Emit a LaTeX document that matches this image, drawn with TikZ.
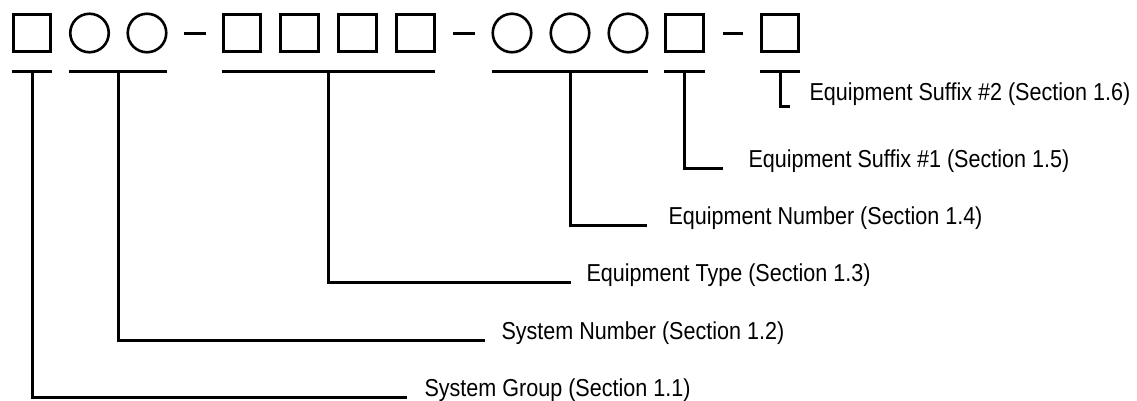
\documentclass[tikz,border=0pt]{standalone}
\usepackage{fontspec}
\setmainfont{Liberation Sans}[FakeStretch=0.88]
\begin{document}
\begin{tikzpicture}[x=1bp,y=-1bp,
  line width=3bp, line join=miter,
  sq/.style={draw, rectangle, minimum size=37.5bp, inner sep=0pt, line width=3bp},
  ci/.style={draw, circle, minimum size=38.5bp, inner sep=0pt, line width=2.6bp},
  lab/.style={anchor=base west, inner sep=0pt, font=\fontsize{24.5bp}{28bp}\selectfont},
  conn/.style={draw, line width=3bp}]
\useasboundingbox (0,0) rectangle (1137,400);
% top row of shapes
\node[sq] (s1) at (32,33) {};
\node[ci] (c1) at (89.5,33) {};
\node[ci] (c2) at (147,33) {};
\coordinate (d1a) at (184,33); \coordinate (d1b) at (206,33);
\draw (d1a) -- (d1b);
\node[sq] (s2) at (242,33) {};
\node[sq] (s3) at (299.5,33) {};
\node[sq] (s4) at (357.5,33) {};
\node[sq] (s5) at (415.5,33) {};
\coordinate (d2a) at (453,33); \coordinate (d2b) at (475,33);
\draw (d2a) -- (d2b);
\node[ci] (c3) at (512,33) {};
\node[ci] (c4) at (570,33) {};
\node[ci] (c5) at (628,33) {};
\node[sq] (s6) at (684.5,33) {};
\coordinate (d3a) at (723,33); \coordinate (d3b) at (743,33);
\draw (d3a) -- (d3b);
\node[sq] (s7) at (780,33) {};
% underlines
\coordinate (u1a) at (12,71);  \coordinate (u1b) at (52,71);  \coordinate (u1) at (32,71);
\coordinate (u2a) at (69,71);  \coordinate (u2b) at (167,71); \coordinate (u2) at (118,71);
\coordinate (u3a) at (222,71); \coordinate (u3b) at (435,71); \coordinate (u3) at (328.5,71);
\coordinate (u4a) at (492,71); \coordinate (u4b) at (648,71); \coordinate (u4) at (570,71);
\coordinate (u5a) at (664,71); \coordinate (u5b) at (705,71); \coordinate (u5) at (684.5,71);
\coordinate (u6a) at (760,71); \coordinate (u6b) at (800,71); \coordinate (u6) at (780,71);
\foreach \i in {1,...,6} { \draw (u\i a) -- (u\i b); }
% labels
\node[lab] (l1) at (423,396) {System Group (Section 1.1)};
\node[lab] (l2) at (500,339) {System Number (Section 1.2)};
\node[lab] (l3) at (585,281) {Equipment Type (Section 1.3)};
\node[lab] (l4) at (667,224) {Equipment Number (Section 1.4)};
\node[lab] (l5) at (747,167) {Equipment Suffix \#1 (Section 1.5)};
\node[lab] (l6) at (808,100) {Equipment Suffix \#2 (Section 1.6)};
% connectors
\draw[conn] (u1) |- ([xshift=-16bp,yshift=-1bp]l1.base west);
\draw[conn] (u2) |- ([xshift=-15bp,yshift=-1bp]l2.base west);
\draw[conn] (u3) |- ([xshift=-14bp,yshift=-1bp]l3.base west);
\draw[conn] (u4) |- ([xshift=-20bp,yshift=-1bp]l4.base west);
\draw[conn] (u5) |- ([xshift=-24bp,yshift=-1bp]l5.base west);
\draw[conn] (u6) |- ([xshift=-18bp,yshift=-6bp]l6.base west);
\end{tikzpicture}
\end{document}
